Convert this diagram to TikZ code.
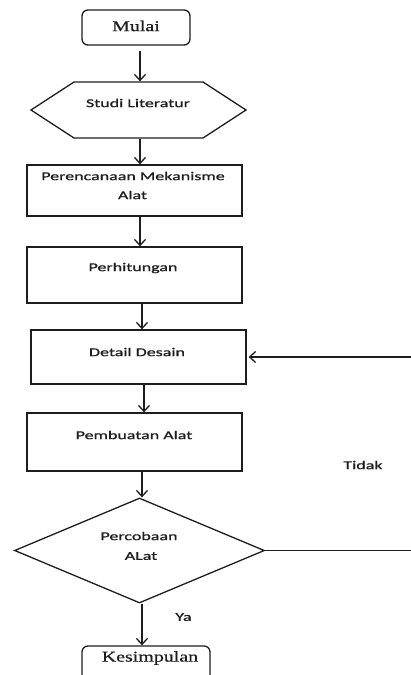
\documentclass[tikz,border=0pt]{standalone}
\usepackage{fontspec}
\usetikzlibrary{arrows.meta,shapes.geometric}
\newfontfamily\calib[FakeStretch=1.5,FakeBold=0.8]{Carlito}
\newfontfamily\tms[FakeStretch=1.33,FakeBold=0.6]{Liberation Serif}
\definecolor{ink}{RGB}{30,30,30}
\begin{document}
\begin{tikzpicture}[x=1pt,y=-1pt,
  line width=1.3pt, draw=ink,
  arr/.style={-{Straight Barb[length=6pt,width=11pt,line width=1.3pt]}},
  procbox/.style={draw, rectangle, minimum width=215pt, inner sep=0pt},
  termbox/.style={draw, rectangle, rounded corners=6pt, inner sep=0pt},
  sanstxt/.style={font=\calib\fontsize{12}{19}\selectfont, text=ink, inner sep=0pt, align=center},
  seriftxt/.style={font=\tms\fontsize{15}{18}\selectfont, text=ink, inner sep=0pt}
]
\useasboundingbox (0,0) rectangle (411,675);
\clip (0,0) rectangle (411,675);
\fill[white] (0,0) rectangle (411,675);

% Mulai
\node[termbox, minimum width=108pt, minimum height=35pt] (mulai) at (136,27.5) {};
\node[seriftxt] (tmulai) at (136,26) {Mulai};

% Studi Literatur hexagon
\node[inner sep=0pt, minimum width=215pt, minimum height=56pt] (lit) at (138.5,110) {};
\draw (31,110) -- (74,82) -- (203,82) -- (246,110) -- (203,138) -- (74,138) -- cycle;
\node[sanstxt] (tlit) at (138,103) {Studi Literatur};

% Perencanaan
\node[procbox, minimum height=51pt] (ren) at (134.5,190.5) {};
\node[sanstxt] (tren1) at (133,176) {Perencanaan Mekanisme};
\node[sanstxt] (tren2) at (132.5,195) {Alat};

% Perhitungan
\node[procbox, minimum height=56pt] (hit) at (134.5,275) {};
\node[sanstxt] (thit) at (133,268) {Perhitungan};

% Detail Desain
\node[procbox, minimum height=54pt] (det) at (138.5,357) {};
\node[sanstxt] (tdet) at (137,352) {Detail Desain};

% Pembuatan Alat
\node[procbox, minimum height=58pt] (buat) at (134.5,442) {};
\node[sanstxt] (tbuat) at (134,435) {Pembuatan Alat};

% Percobaan Alat diamond
\node[draw, diamond, aspect=2.38, minimum width=250pt, minimum height=105pt, inner sep=0pt] (dia) at (139.5,550.5) {};
\node[sanstxt] (tdia1) at (139,536) {Percobaan};
\node[sanstxt] (tdia2) at (141,556) {ALat};

% Kesimpulan
\node[termbox, minimum width=128pt, minimum height=60pt] (kes) at (146,676) {};
\node[seriftxt] (tkes) at (150,658) {Kesimpulan};

% labels
\node[sanstxt] (tidak) at (363,465) {Tidak};
\node[sanstxt] (ya) at (183.5,617) {Ya};

% connectors
\draw[arr, shorten <=5pt] (mulai.south -| 140,0) -- (lit.north -| 140,0);
\draw[arr] (lit.south -| 140,0) -- (ren.north -| 140,0);
\draw[arr] (ren.south -| 140,0) -- (hit.north -| 140,0);
\draw[arr] (hit.south -| 142,0) -- (det.north -| 142,0);
\draw[arr] (det.south -| 144,0) -- (buat.north -| 144,0);
\draw[arr] (buat.south -| 142,0) -- (dia.north -| 142,0);
\draw[arr] (dia.south -| 142,0) -- (kes.north -| 142,0);
\draw[arr, shorten >=2pt] (dia.east) -- (425,550.5) |- (det.east);
\end{tikzpicture}
\end{document}
